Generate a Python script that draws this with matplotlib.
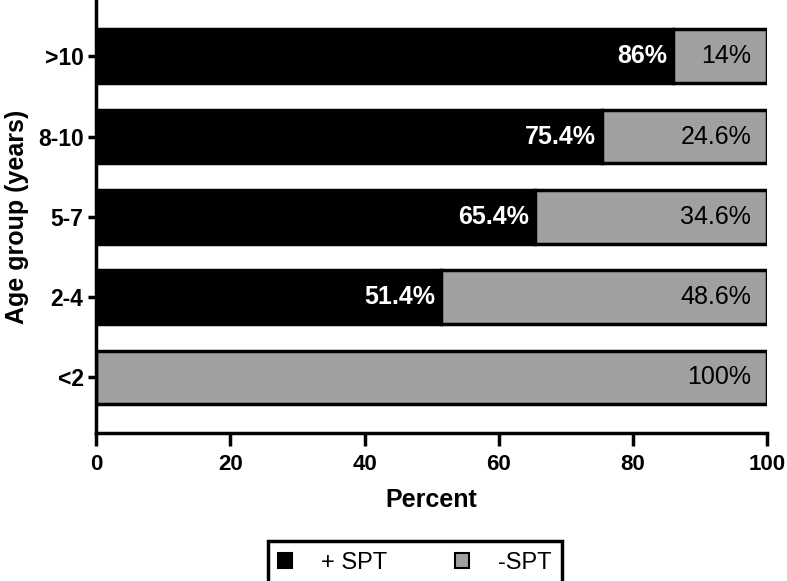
import matplotlib
matplotlib.use("Agg")
import matplotlib.pyplot as plt
from matplotlib.patches import Patch

plt.rcParams["font.family"] = ["Liberation Sans", "DejaVu Sans"]

groups = ["<2", "2-4", "5-7", "8-10", ">10"]
pos_spt = [0, 51.4, 65.4, 75.4, 86]
neg_spt = [100, 48.6, 34.6, 24.6, 14]
pos_labels = ["", "51.4%", "65.4%", "75.4%", "86%"]
neg_labels = ["100%", "48.6%", "34.6%", "24.6%", "14%"]

BLACK = "#000000"
GREY = "#a0a0a0"

fig = plt.figure(figsize=(7.87, 5.81), dpi=100)
ax = fig.add_axes([0.122, 0.255, 0.853, 0.745])

y = range(len(groups))
h = 0.67
ax.barh(y, pos_spt, height=h, color=BLACK, edgecolor=BLACK, linewidth=2.5)
ax.barh(y, neg_spt, left=pos_spt, height=h, color=GREY, edgecolor=BLACK, linewidth=2.5)

for i in y:
    if pos_labels[i]:
        ax.text(pos_spt[i] - 0.9, i, pos_labels[i], ha="right", va="center",
                color="white", fontsize=18, fontweight="bold")
    ax.text(100 - 2.4, i, neg_labels[i], ha="right", va="center",
            color="black", fontsize=18)

ax.set_xlim(0, 100)
ax.set_ylim(-0.69, 4.7)
ax.set_xticks([0, 20, 40, 60, 80, 100])
ax.set_yticks(list(y))
ax.set_yticklabels(groups)
for lab in ax.get_xticklabels() + ax.get_yticklabels():
    lab.set_fontweight("bold")
ax.tick_params(axis="x", labelsize=16, width=2.5, length=9.5, pad=6)
ax.tick_params(axis="y", labelsize=16.5, width=2.5, length=6, pad=3)
ax.spines["top"].set_visible(False)
ax.spines["right"].set_visible(False)
ax.spines["left"].set_linewidth(2.5)
ax.spines["bottom"].set_linewidth(2.5)
ax.set_xlabel("Percent", fontsize=18, fontweight="bold", labelpad=9)
ax.set_ylabel("Age group (years)", fontsize=18, fontweight="bold", labelpad=6)

handles = [Patch(facecolor=BLACK, edgecolor=BLACK, linewidth=1.5),
           Patch(facecolor=GREY, edgecolor=BLACK, linewidth=1.5)]
leg = fig.legend(handles, ["+ SPT", "-SPT"], ncol=2, loc="upper center",
                 bbox_to_anchor=(0.527, 0.068), frameon=True, fancybox=False,
                 framealpha=1, fontsize=17, handlelength=0.6, handleheight=0.6,
                 columnspacing=2.9, handletextpad=1.2, borderpad=0.45,
                 borderaxespad=0)
leg.get_frame().set_edgecolor("black")
leg.get_frame().set_linewidth(2.5)

fig.savefig("out.png", dpi=100)
